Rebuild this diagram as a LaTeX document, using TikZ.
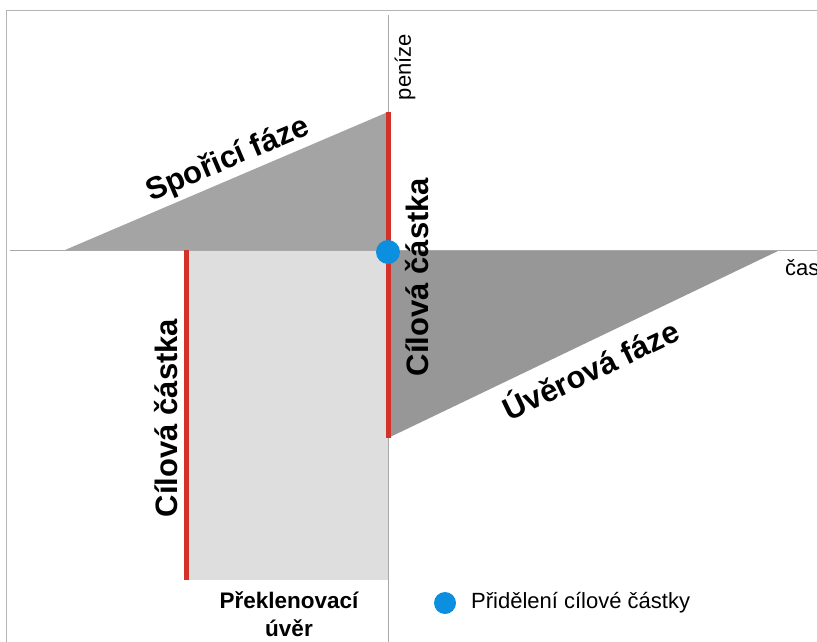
\documentclass[tikz,border=0pt]{standalone}
\usepackage{fontspec}
\setmainfont{Liberation Sans}
\definecolor{axisgray}{HTML}{A8A8A8}
\definecolor{framegray}{HTML}{B4B4B4}
\definecolor{trisave}{HTML}{A4A4A4}
\definecolor{triloan}{HTML}{979797}
\definecolor{bridge}{HTML}{DEDEDE}
\definecolor{targetred}{HTML}{D2322A}
\definecolor{dotblue}{HTML}{0B8FDE}
\begin{document}
\begin{tikzpicture}[x=1pt,y=-1pt,
  axisline/.style={draw=axisgray,line width=1pt},
  redbar/.style={draw=targetred,line width=5pt},
  biglabel/.style={font=\fontsize{31}{31}\selectfont\bfseries,inner sep=0pt},
  smalllabel/.style={font=\fontsize{22}{22}\selectfont,inner sep=0pt},
  bridgelabel/.style={font=\fontsize{22.5}{28}\selectfont\bfseries,align=center,inner sep=0pt},
  dot/.style={circle,fill=dotblue,inner sep=0pt,minimum size=#1}]
\useasboundingbox (0,0) rectangle (817,642);
% frame
\draw[framegray,line width=1pt] (6,642) -- (6,11) -- (817,11);
% coordinates
\coordinate (O) at (388,250);
\coordinate (saveStart) at (65,250);
\coordinate (saveTop) at (388,112);
\coordinate (loanEnd) at (780,250);
\coordinate (loanBottom) at (388,438);
\coordinate (bridgeTL) at (186,250);
\coordinate (bridgeBR) at (388,580);
\coordinate (bridgeBL) at (186,580);
% shapes
\fill[bridge] (bridgeTL) rectangle (bridgeBR);
\fill[trisave] (saveStart) -- (saveTop) -- (O) -- cycle;
\fill[triloan] (O) -- (loanEnd) -- (loanBottom) -- cycle;
% axes
\coordinate (xLeft) at (10,250);
\coordinate (xRight) at (817,250);
\coordinate (yTop) at (388,15);
\coordinate (yBottom) at (388,642);
\draw[axisline] (xLeft) -- (xRight);
\draw[axisline] (yTop) -- (yBottom);
% red bars
\draw[redbar] (saveTop) -- (loanBottom);
\draw[redbar] (bridgeTL) -- (bridgeBL);
% allotment dot
\node[dot=24pt] (allot) at (388,252) {};
% labels
\node[smalllabel,rotate=90] (money) at (405,67) {peníze};
\node[smalllabel,anchor=west] (time) at (785,268) {čas};
\node[biglabel,rotate=23.1] (savephase) at (228,160) {Spořicí fáze};
\node[biglabel,rotate=25.6] (loanphase) at (590,368) {Úvěrová fáze};
\node[biglabel,rotate=90] (target1) at (417,277) {Cílová částka};
\node[biglabel,rotate=90] (target2) at (166,418) {Cílová částka};
\node[bridgelabel] (bridgelbl) at (289,614) {Překlenovací\\úvěr};
% legend
\node[dot=22pt] (legdot) at (445,603) {};
\node[smalllabel,anchor=west] (legtext) at (471,603) {Přidělení cílové částky};
\end{tikzpicture}
\end{document}
